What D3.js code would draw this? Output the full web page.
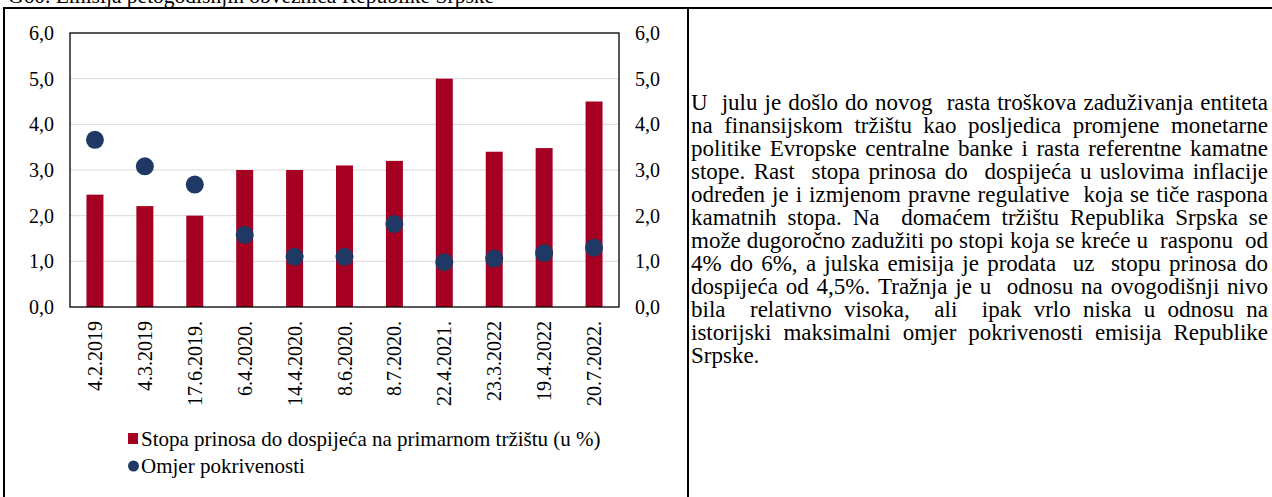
<!DOCTYPE html>
<html>
<head>
<meta charset="utf-8">
<script src="https://cdn.jsdelivr.net/npm/d3@7"></script>
<style>
html, body { margin: 0; padding: 0; background: #fff; overflow: hidden; }
svg { display: block; }
text { font-family: "Liberation Serif", "Times New Roman", serif; fill: #000; }
</style>
</head>
<body>
<script>
// ---- data ----
const categories = ["4.2.2019", "4.3.2019", "17.6.2019.", "6.4.2020.", "14.4.2020.", "8.6.2020.", "8.7.2020.", "22.4.2021.", "23.3.2022", "19.4.2022", "20.7.2022."];
const yieldValues = [2.46, 2.21, 2.0, 3.0, 3.0, 3.1, 3.2, 5.0, 3.4, 3.48, 4.5];
const coverageValues = [3.66, 3.08, 2.68, 1.58, 1.10, 1.10, 1.82, 0.98, 1.06, 1.18, 1.30];
const yTicks = [0, 1, 2, 3, 4, 5, 6];
const seriesNames = ["Stopa prinosa do dospijeća na primarnom tržištu (u %)", "Omjer pokrivenosti"];
const titleText = "G60. Emisija petogodišnjih obveznica Republike Srpske";
const paragraphLines = [
  "U  julu je došlo do novog  rasta troškova zaduživanja entiteta",
  "na finansijskom tržištu kao posljedica promjene monetarne",
  "politike Evropske centralne banke i rasta referentne kamatne",
  "stope. Rast  stopa prinosa do  dospijeća u uslovima inflacije",
  "određen je i izmjenom pravne regulative  koja se tiče raspona",
  "kamatnih stopa. Na  domaćem tržištu Republika Srpska se",
  "može dugoročno zadužiti po stopi koja se kreće u  rasponu  od",
  "4% do 6%, a julska emisija je prodata  uz  stopu prinosa do",
  "dospijeća od 4,5%. Tražnja je u  odnosu na ovogodišnji nivo",
  "bila  relativno visoka,  ali  ipak vrlo niska u odnosu na",
  "istorijski maksimalni omjer pokrivenosti emisija Republike",
  "Srpske."
];

// ---- layout ----
const W = 1272, H = 497;
const plot = { left: 70, right: 619, top: 33, bottom: 307 };
const barColor = "#a50021", dotColor = "#1f3864";
const fs = 20;

const svg = d3.select("body").append("svg").attr("width", W).attr("height", H);

// title (clipped at top, as in the reference)
svg.append("text").attr("x", 8).attr("y", 3).attr("font-size", 21.5).text(titleText);

// outer frame lines
svg.append("line").attr("x1", 3).attr("x2", W).attr("y1", 8).attr("y2", 8).attr("stroke", "#000").attr("stroke-width", 2);
svg.append("line").attr("x1", 4).attr("x2", 4).attr("y1", 7).attr("y2", H).attr("stroke", "#000").attr("stroke-width", 2);
svg.append("line").attr("x1", 688).attr("x2", 688).attr("y1", 7).attr("y2", H).attr("stroke", "#000").attr("stroke-width", 2);

// scales
const x = d3.scaleBand().domain(categories).range([plot.left, plot.right]).paddingInner(0.66).paddingOuter(0.33);
const y = d3.scaleLinear().domain([0, 6]).range([plot.bottom, plot.top]);

// gridlines
svg.append("g").selectAll("line").data(yTicks.filter(d => d > 0 && d < 6)).join("line")
  .attr("x1", plot.left).attr("x2", plot.right)
  .attr("y1", d => y(d)).attr("y2", d => y(d))
  .attr("stroke", "#d9d9d9").attr("stroke-width", 1);

// bars
svg.append("g").selectAll("rect").data(categories).join("rect")
  .attr("x", d => x(d))
  .attr("width", x.bandwidth())
  .attr("y", (d, i) => y(yieldValues[i]))
  .attr("height", (d, i) => y(0) - y(yieldValues[i]))
  .attr("fill", barColor);

// dots
svg.append("g").selectAll("circle").data(categories).join("circle")
  .attr("cx", d => x(d) + x.bandwidth() / 2)
  .attr("cy", (d, i) => y(coverageValues[i]))
  .attr("r", 9)
  .attr("fill", dotColor);

// plot frame
svg.append("rect").attr("x", plot.left).attr("y", plot.top)
  .attr("width", plot.right - plot.left).attr("height", plot.bottom - plot.top)
  .attr("fill", "none").attr("stroke", "#000").attr("stroke-width", 1.3);

// y axes (left & right)
const fmt = d => d3.format(".1f")(d).replace(".", ",");
const leftAxis = d3.axisLeft(y).tickValues(yTicks).tickFormat(fmt).tickSize(0).tickPadding(16);
const gL = svg.append("g").attr("transform", `translate(${plot.left},0)`).call(leftAxis);
const rightAxis = d3.axisRight(y).tickValues(yTicks).tickFormat(fmt).tickSize(0).tickPadding(16);
const gR = svg.append("g").attr("transform", `translate(${plot.right},0)`).call(rightAxis);
[gL, gR].forEach(g => {
  g.select(".domain").remove();
  g.selectAll("text").attr("font-size", fs).attr("font-family", "Liberation Serif").attr("fill", "#000");
});

// x labels
const xAxis = d3.axisBottom(x).tickSize(0).tickPadding(0);
const gX = svg.append("g").attr("transform", `translate(0,${plot.bottom})`).call(xAxis);
gX.select(".domain").remove();
gX.selectAll("text")
  .attr("font-size", fs).attr("font-family", "Liberation Serif").attr("fill", "#000")
  .attr("text-anchor", "end")
  .attr("transform", "translate(0,14) rotate(-90)")
  .attr("x", 0).attr("y", 0).attr("dy", "0.35em");

// legend
const lfs = 21;
const lg = svg.append("g");
lg.append("rect").attr("x", 128).attr("y", 433).attr("width", 10).attr("height", 11).attr("fill", barColor);
lg.append("text").attr("x", 141).attr("y", 439).attr("dy", "0.35em").attr("font-size", lfs).text(seriesNames[0]);
lg.append("circle").attr("cx", 133.5).attr("cy", 466).attr("r", 5.5).attr("fill", dotColor);
lg.append("text").attr("x", 141).attr("y", 466).attr("dy", "0.35em").attr("font-size", lfs).text(seriesNames[1]);

// justified paragraph
const pLeft = 691, pRight = 1268, pTop = 110, pLH = 23, pFs = 23;
const meas = svg.append("text").attr("font-size", pFs).attr("x", -1000).attr("y", -1000);
const spaceW = (() => { meas.text("a a"); const w1 = meas.node().getComputedTextLength(); meas.text("aa"); return w1 - meas.node().getComputedTextLength(); })();
paragraphLines.forEach((ln, i) => {
  const tokens = ln.split(" ");
  const widths = tokens.map(t => { meas.text(t); return t ? meas.node().getComputedTextLength() : 0; });
  const total = d3.sum(widths);
  const gaps = tokens.length - 1;
  const last = i === paragraphLines.length - 1;
  let gap = (last || gaps === 0) ? spaceW : (pRight - pLeft - total) / gaps;
  if (gap < 2) { gap = 2; }
  const t = svg.append("text").attr("font-size", pFs).attr("y", pTop + i * pLH);
  let cx = pLeft;
  tokens.forEach((tok, j) => {
    if (tok) t.append("tspan").attr("x", cx).text(tok);
    cx += widths[j] + gap;
  });
});
meas.remove();
</script>
</body>
</html>
